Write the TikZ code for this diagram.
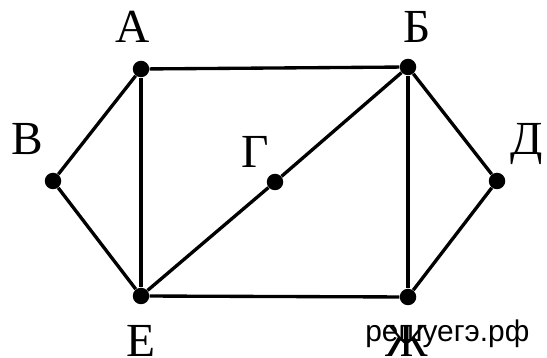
\documentclass[tikz,border=0pt]{standalone}
\usepackage{fontspec}
\setmainfont{Liberation Serif}
\newfontfamily\wmfont{Liberation Sans}
\usetikzlibrary{positioning}

\tikzset{
  vert/.style={circle, fill=black, inner sep=0pt, minimum size=0.33cm},
  vlabel/.style={font=\fontsize{27}{30}\selectfont, inner sep=0pt, anchor=base},
  edge/.style={line width=1.9pt}
}

\begin{document}
\begin{tikzpicture}
        \useasboundingbox (0,0) rectangle (10.94,7.16);
        % vertices
        \node[vert] (A) at (2.82,5.78) {};
        \node[vert] (B) at (8.16,5.82) {};
        \node[vert] (V) at (1.06,3.54) {};
        \node[vert] (G) at (5.50,3.52) {};
        \node[vert] (D) at (9.94,3.54) {};
        \node[vert] (E) at (2.82,1.24) {};
        \node[vert] (Zh) at (8.16,1.22) {};
        % edges
        \draw[edge] (A) -- (B);
        \draw[edge] (A) -- (V);
        \draw[edge] (A) -- (E);
        \draw[edge] (V) -- (E);
        \draw[edge] (E) -- (G) -- (B);
        \draw[edge] (B) -- (D);
        \draw[edge] (B) -- (Zh);
        \draw[edge] (D) -- (Zh);
        \draw[edge] (E) -- (Zh);
        % labels
        \node[vlabel] (lA) at (2.66,6.30) {А};
        \node[vlabel] (lB) at (8.35,6.30) {Б};
        \node[vlabel] (lV) at (0.54,4.06) {В};
        \node[vlabel] (lG) at (5.10,3.80) {Г};
        \node[vlabel] (lD) at (10.54,4.06) {Д};
        \node[vlabel] (lE) at (2.82,0.02) {Е};
        \node[vlabel] (lZh) at (8.14,0.02) {Ж};
        % watermark
        \node[font=\wmfont\fontsize{17}{19}\selectfont, inner sep=0pt, anchor=base west] (wm) at (7.30,0.32) {решуегэ.рф};
      \end{tikzpicture}
\end{document}
